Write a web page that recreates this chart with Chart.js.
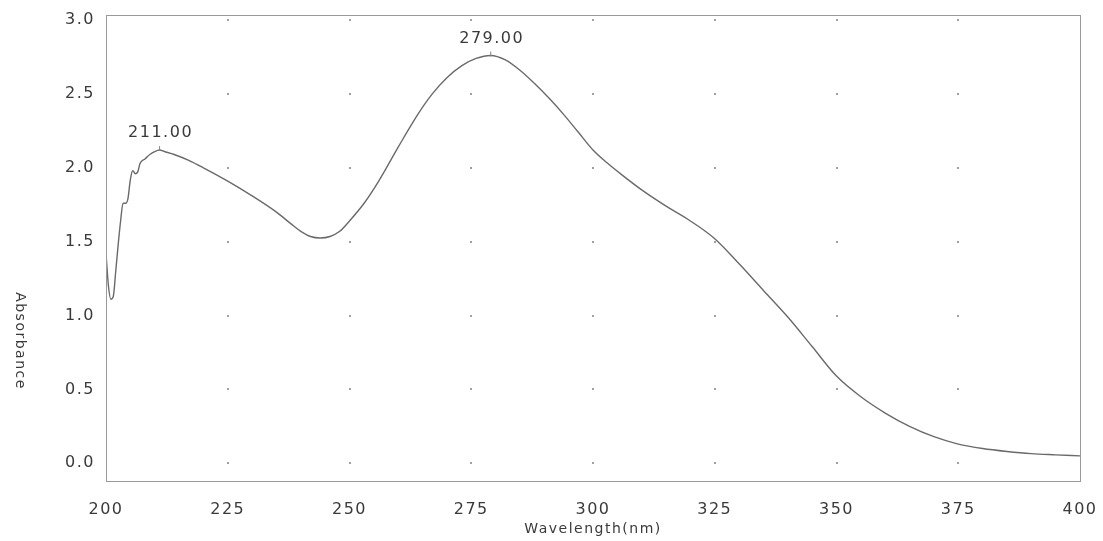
<!DOCTYPE html>
<html>
<head>
<meta charset="utf-8">
<script src="https://cdn.jsdelivr.net/npm/chart.js@4.4.1/dist/chart.umd.min.js"></script>
<style>
  html, body { margin: 0; padding: 0; background: #ffffff; }
  #wrap { width: 1103px; height: 541px; position: relative; }
</style>
</head>
<body>
<div id="wrap"><canvas id="c" width="1103" height="541"></canvas></div>
<script>
const wavelengths = [200, 200.5, 201, 201.5, 202, 202.5, 203, 203.5, 204, 204.5, 205, 205.5, 206, 206.5, 207, 208, 209, 210, 211, 212, 214, 217, 220, 225, 230, 235, 238, 240, 242, 244, 246, 248, 250, 253, 256, 260, 264, 267, 270, 273, 276, 279, 282, 285, 288, 291, 294, 297, 300, 303, 306, 310, 315, 320, 325, 330, 335, 340, 345, 350, 355, 360, 365, 370, 375, 380, 385, 390, 395, 400];
const absorbance = [1.42, 1.20, 1.11, 1.13, 1.30, 1.48, 1.64, 1.76, 1.76, 1.79, 1.92, 1.98, 1.96, 1.97, 2.03, 2.06, 2.09, 2.11, 2.12, 2.11, 2.09, 2.05, 2.00, 1.91, 1.81, 1.70, 1.62, 1.57, 1.535, 1.525, 1.535, 1.57, 1.64, 1.76, 1.91, 2.14, 2.36, 2.50, 2.61, 2.69, 2.74, 2.76, 2.73, 2.66, 2.57, 2.47, 2.36, 2.24, 2.12, 2.03, 1.95, 1.85, 1.74, 1.64, 1.52, 1.35, 1.17, 0.99, 0.79, 0.59, 0.45, 0.34, 0.25, 0.18, 0.13, 0.10, 0.08, 0.065, 0.057, 0.05];
const xTicks = [200, 225, 250, 275, 300, 325, 350, 375, 400];
const yTicks = [0.0, 0.5, 1.0, 1.5, 2.0, 2.5, 3.0];
const peakWavelengths = [211, 279];
const peakLabels = ['211.00', '279.00'];
const xTitle = 'Wavelength(nm)';
const yTitle = 'Absorbance';

const points = wavelengths.map((w, i) => ({ x: w, y: absorbance[i] }));
const FONT = '"DejaVu Sans", Verdana, sans-serif';
const TEXT = '#3a3a3a';

const framePlugin = {
  id: 'frame',
  beforeLayout(chart) { chart.ctx.letterSpacing = '1.5px'; },
  beforeDraw(chart) { chart.ctx.letterSpacing = '1.5px'; },
  afterDraw(chart) {
    const { ctx, chartArea: a, scales } = chart;
    ctx.save();
    ctx.letterSpacing = '1.5px';
    // frame
    ctx.strokeStyle = '#9a9a9a';
    ctx.lineWidth = 1;
    ctx.strokeRect(a.left + 0.5, a.top + 0.5, a.right - a.left, a.bottom - a.top);
    // grid dots
    ctx.fillStyle = '#a0a0a0';
    xTicks.forEach(xv => {
      yTicks.forEach(yv => {
        const px = scales.x.getPixelForValue(xv);
        const py = scales.y.getPixelForValue(yv);
        if (px <= a.left + 2 || px >= a.right - 2) return;
        ctx.fillRect(Math.round(px) - 1, Math.round(py) - 1, 2, 2);
      });
    });
    // peak labels
    ctx.fillStyle = TEXT;
    ctx.font = '16px ' + FONT;
    ctx.textAlign = 'center';
    ctx.textBaseline = 'middle';
    peakWavelengths.forEach((w, i) => {
      const idx = wavelengths.indexOf(w);
      const px = scales.x.getPixelForValue(w);
      const py = scales.y.getPixelForValue(absorbance[idx]);
      ctx.fillText(peakLabels[i], px + 1, py - 17);
      ctx.strokeStyle = '#888';
      ctx.beginPath();
      ctx.moveTo(px, py - 4);
      ctx.lineTo(px, py + 1);
      ctx.stroke();
    });
    // y title, reading top to bottom
    ctx.font = '14px ' + FONT;
    ctx.translate(20, 341);
    ctx.rotate(Math.PI / 2);
    ctx.fillText(yTitle, 0, 0);
    ctx.restore();
  }
};

new Chart(document.getElementById('c'), {
  type: 'line',
  data: {
    datasets: [{
      data: points,
      borderColor: '#6a6a6a',
      borderWidth: 1.4,
      pointRadius: 0,
      cubicInterpolationMode: 'monotone',
      fill: false
    }]
  },
  options: {
    responsive: false,
    animation: false,
    layout: { padding: { left: 0, right: 23, top: 15, bottom: 0 } },
    plugins: { legend: { display: false }, tooltip: { enabled: false } },
    scales: {
      x: {
        type: 'linear',
        min: 200,
        max: 400,
        afterBuildTicks(scale) { scale.ticks = xTicks.map(v => ({ value: v })); },
        afterFit(scale) { scale.height = 60; scale.paddingLeft = 0; scale.paddingRight = 0; },
        grid: { display: false, drawTicks: false },
        border: { display: false },
        ticks: {
          padding: 19,
          color: TEXT,
          font: { family: FONT, size: 16 },
          callback: v => String(v),
          maxRotation: 0,
          autoSkip: false
        },
        title: {
          display: true,
          text: xTitle,
          color: TEXT,
          font: { family: FONT, size: 14 },
          padding: { top: 0, bottom: 3 }
        }
      },
      y: {
        type: 'linear',
        min: -0.12,
        max: 3.034,
        afterBuildTicks(scale) { scale.ticks = yTicks.map(v => ({ value: v })); },
        afterFit(scale) { scale.width = 106; scale.paddingTop = 0; scale.paddingBottom = 0; },
        grid: { display: false, drawTicks: false },
        border: { display: false },
        ticks: {
          padding: 11,
          color: TEXT,
          font: { family: FONT, size: 16 },
          callback: v => Number(v).toFixed(1),
          autoSkip: false
        },
        title: { display: false }
      }
    }
  },
  plugins: [framePlugin]
});
</script>
</body>
</html>
